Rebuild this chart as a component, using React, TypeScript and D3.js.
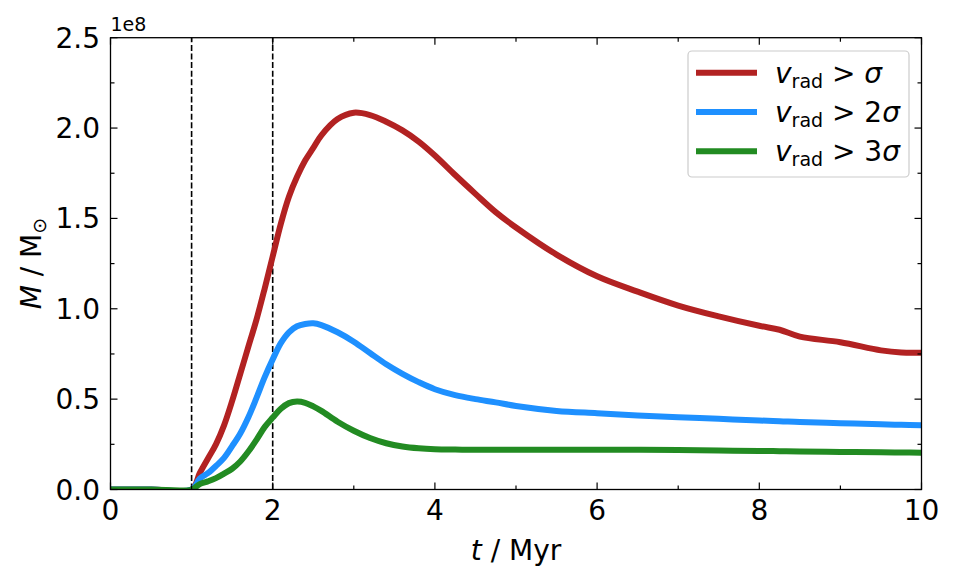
import * as d3 from 'd3';

// time grid (Myr) and the three mass curves, in units of 1e8 Msun
const times = [
  0, 0.5, 1.0, 1.1, 1.2, 1.3, 1.4, 1.5, 1.6, 1.7, 1.8, 1.9, 2.0, 2.1, 2.2, 2.3, 2.4, 2.5, 2.6, 2.8, 3.0,
  3.2, 3.4, 3.6, 3.8, 4.0, 4.25, 4.5, 4.75, 5.0, 5.5, 6.0, 6.5, 7.0, 7.5, 8.0, 8.25, 8.5, 9.0, 9.5, 9.75, 10,
];

const massSigma1 = [
  0, 0, 0, 0.09, 0.17, 0.25, 0.355, 0.49, 0.64, 0.79, 0.94, 1.11, 1.29, 1.47, 1.62, 1.73, 1.82, 1.89, 1.96,
  2.05, 2.085, 2.072, 2.035, 1.987, 1.925, 1.848, 1.74, 1.636, 1.535, 1.45, 1.3, 1.18, 1.095, 1.018, 0.958,
  0.906, 0.884, 0.846, 0.815, 0.77, 0.758, 0.757,
];

const massSigma2 = [
  0, 0, 0, 0.06, 0.09, 0.13, 0.175, 0.24, 0.31, 0.4, 0.507, 0.62, 0.72, 0.81, 0.87, 0.903, 0.916, 0.92,
  0.91, 0.87, 0.818, 0.755, 0.693, 0.64, 0.594, 0.555, 0.522, 0.5, 0.482, 0.462, 0.435, 0.422, 0.41, 0.4,
  0.391, 0.382, 0.378, 0.373, 0.367, 0.361, 0.358, 0.355,
];

const massSigma3 = [
  0, 0, 0, 0.03, 0.045, 0.063, 0.088, 0.115, 0.155, 0.21, 0.275, 0.345, 0.398, 0.447, 0.478, 0.487, 0.48,
  0.46, 0.435, 0.375, 0.325, 0.285, 0.256, 0.238, 0.228, 0.223, 0.221, 0.22, 0.22, 0.22, 0.22, 0.22, 0.22,
  0.219, 0.216, 0.213, 0.212, 0.21, 0.208, 0.206, 0.205, 0.204,
];

const seriesNames = ['', '2', '3'];
const seriesColors = ['#b22222', '#1e90ff', '#228b22'];
const markerTimes = [1, 2];

const xTicks = [0, 2, 4, 6, 8, 10];
const xMinor = [1, 3, 5, 7, 9];
const yTicks = [0, 0.5, 1.0, 1.5, 2.0, 2.5];
const yMinor = [0.25, 0.75, 1.25, 1.75, 2.25];

const W = 958;
const H = 582;
const margin = { top: 37.7, right: 36.5, bottom: 92.5, left: 110.5 };
const font = 'DejaVu Sans, sans-serif';

export default function App() {
  const x = d3.scaleLinear().domain([0, 10]).range([margin.left, W - margin.right]);
  const y = d3.scaleLinear().domain([0, 2.5]).range([H - margin.bottom, margin.top]);
  const [x0, x1] = x.range();
  const [yb, yt] = y.range();

  const line = d3
    .line<number>()
    .x((_, i) => x(times[i]))
    .y((d) => y(d))
    .curve(d3.curveCatmullRom.alpha(0.5));

  const series = [massSigma1, massSigma2, massSigma3];

  const major = 7;
  const minor = 4;

  return (
    <svg
      width={W}
      height={H}
      style={{ position: 'absolute', left: 0, top: 0, background: '#fff' }}
      fontFamily={font}
    >
      <defs>
        <clipPath id="plot">
          <rect x={x0} y={yt} width={x1 - x0} height={yb - yt} />
        </clipPath>
      </defs>

      {/* dashed markers */}
      {markerTimes.map((t) => (
        <line
          key={t}
          x1={x(t)}
          x2={x(t)}
          y1={yb}
          y2={yt}
          stroke="#000"
          strokeWidth={1.6}
          strokeDasharray="6,2.6"
        />
      ))}

      {/* curves */}
      <g clipPath="url(#plot)">
        {series.map((s, i) => (
          <path key={i} d={line(s) ?? ''} fill="none" stroke={seriesColors[i]} strokeWidth={6} />
        ))}
      </g>

      {/* ticks, inward on all sides */}
      <g stroke="#000" strokeWidth={1.2}>
        {xTicks.map((t) => (
          <g key={'xt' + t}>
            <line x1={x(t)} x2={x(t)} y1={yb} y2={yb - major} />
            <line x1={x(t)} x2={x(t)} y1={yt} y2={yt + major} />
          </g>
        ))}
        {xMinor.map((t) => (
          <g key={'xm' + t}>
            <line x1={x(t)} x2={x(t)} y1={yb} y2={yb - minor} />
            <line x1={x(t)} x2={x(t)} y1={yt} y2={yt + minor} />
          </g>
        ))}
        {yTicks.map((v) => (
          <g key={'yt' + v}>
            <line x1={x0} x2={x0 + major} y1={y(v)} y2={y(v)} />
            <line x1={x1} x2={x1 - major} y1={y(v)} y2={y(v)} />
          </g>
        ))}
        {yMinor.map((v) => (
          <g key={'ym' + v}>
            <line x1={x0} x2={x0 + minor} y1={y(v)} y2={y(v)} />
            <line x1={x1} x2={x1 - minor} y1={y(v)} y2={y(v)} />
          </g>
        ))}
      </g>

      {/* frame */}
      <rect x={x0} y={yt} width={x1 - x0} height={yb - yt} fill="none" stroke="#000" strokeWidth={1.3} />

      {/* tick labels */}
      <g fontSize={28} fill="#000">
        {xTicks.map((t) => (
          <text key={'xl' + t} x={x(t)} y={520} textAnchor="middle">
            {d3.format('d')(t)}
          </text>
        ))}
        {yTicks.map((v) => (
          <text key={'yl' + v} x={100} y={y(v) + 10} textAnchor="end">
            {d3.format('.1f')(v)}
          </text>
        ))}
      </g>
      <text x={x0} y={31} fontSize={19}>
        1e8
      </text>

      {/* axis labels */}
      <text x={(x0 + x1) / 2} y={560} textAnchor="middle" fontSize={28}>
        <tspan fontStyle="italic">t</tspan>
        <tspan> / Myr</tspan>
      </text>
      <text transform={`translate(41,${(yb + yt) / 2}) rotate(-90)`} textAnchor="middle" fontSize={28}>
        <tspan fontStyle="italic">M</tspan>
        <tspan> / M</tspan>
        <tspan fontSize={19} dy={5}>
          ⊙
        </tspan>
      </text>

      {/* legend */}
      <rect x={688} y={51} width={221} height={126} rx={4} fill="#fff" fillOpacity={0.8} stroke="#ccc" strokeWidth={1.2} />
      {seriesNames.map((n, i) => {
        const ly = 72.7 + i * 39.3;
        return (
          <g key={'lg' + i}>
            <line x1={696} x2={757} y1={ly} y2={ly} stroke={seriesColors[i]} strokeWidth={6} />
            <text x={775} y={ly + 10} fontSize={28}>
              <tspan fontStyle="italic">v</tspan>
              <tspan fontSize={19} dy={5}>
                rad
              </tspan>
              <tspan dy={-5}>{' > ' + n}</tspan>
              <tspan fontStyle="italic">σ</tspan>
            </text>
          </g>
        );
      })}
    </svg>
  );
}
